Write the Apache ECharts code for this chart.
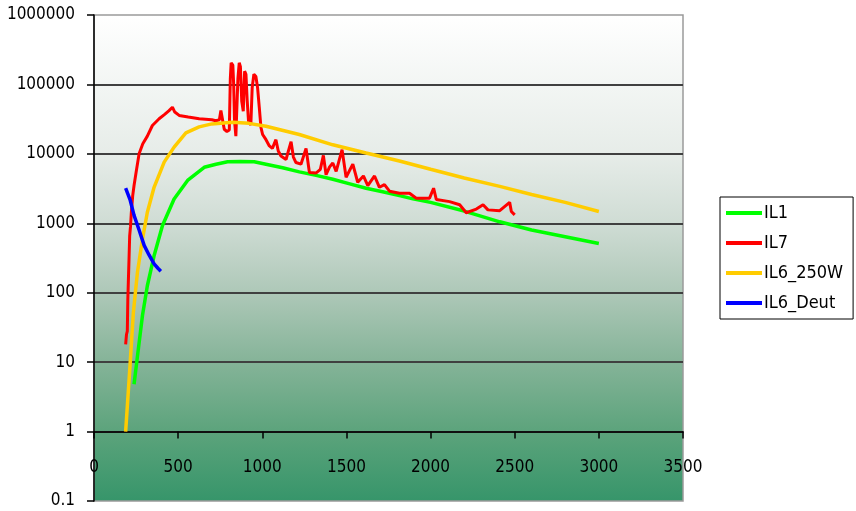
<!DOCTYPE html>
<html>
<head>
<meta charset="utf-8">
<script src="https://cdn.jsdelivr.net/npm/echarts@6/dist/echarts.min.js"></script>
<style>
html,body{margin:0;padding:0;background:#fff;}
#c{width:856px;height:511px;}
</style>
</head>
<body>
<div id="c"></div>
<script>
// ---- data ----
const seriesNames = ['IL1', 'IL7', 'IL6_250W', 'IL6_Deut'];
const xTicks = [0, 500, 1000, 1500, 2000, 2500, 3000, 3500];
const yTicks = [0.1, 1, 10, 100, 1000, 10000, 100000, 1000000];

const il1X = [238, 258, 288, 317, 357, 407, 476, 556, 655, 725, 794, 870, 952, 1022, 1121, 1220, 1320, 1419, 1520, 1617, 1715, 1815, 1895, 2000, 2200, 2411, 2600, 2800, 3000];
const il1Y = [4.8, 12, 47, 126, 340, 930, 2240, 4140, 6400, 7100, 7700, 7750, 7700, 7100, 6300, 5500, 4900, 4300, 3700, 3200, 2850, 2500, 2250, 2000, 1500, 1050, 800, 640, 510];

const il7X = [188, 193, 198, 201, 204, 208, 212, 217, 222, 230, 238, 250, 268, 290, 317, 347, 387, 420, 446, 466, 480, 506, 560, 625, 700, 724, 745, 754, 762, 774, 790, 804, 810, 815, 825, 830, 835, 843, 850, 855, 863, 870, 878, 887, 895, 903, 910, 918, 932, 940, 950, 962, 972, 982, 992, 1002, 1022, 1042, 1060, 1081, 1095, 1111, 1141, 1171, 1185, 1200, 1230, 1260, 1280, 1320, 1345, 1363, 1379, 1400, 1419, 1439, 1474, 1498, 1538, 1567, 1601, 1627, 1667, 1696, 1726, 1756, 1815, 1875, 1915, 1994, 2018, 2034, 2113, 2173, 2212, 2272, 2312, 2341, 2411, 2470, 2480, 2500];
const il7Y = [18, 25, 28, 80, 142, 300, 660, 900, 1450, 2500, 3500, 5400, 10000, 14000, 18000, 25600, 32000, 37000, 42000, 47000, 40000, 35800, 34000, 32000, 31000, 30000, 31000, 42000, 40000, 22600, 21000, 22000, 120000, 205000, 190000, 100000, 30000, 18000, 17500, 120000, 205000, 180000, 57000, 41000, 155000, 140000, 60000, 30000, 26000, 90000, 140000, 130000, 90000, 47000, 24000, 19000, 16000, 13000, 12000, 16000, 11000, 9300, 8300, 15000, 9000, 7500, 7100, 12000, 5400, 5300, 6000, 9500, 5000, 6500, 7400, 5600, 11500, 4600, 7100, 3900, 4800, 3500, 4800, 3300, 3600, 2900, 2700, 2700, 2300, 2300, 3200, 2200, 2050, 1850, 1420, 1600, 1850, 1560, 1520, 2000, 1480, 1320];

const il6wX = [188, 198, 214, 234, 258, 288, 317, 357, 417, 476, 546, 625, 700, 823, 920, 1022, 1220, 1419, 1617, 1815, 2000, 2200, 2411, 2600, 2800, 3000];
const il6wY = [1, 2.3, 8.9, 52, 195, 590, 1440, 3300, 7600, 12500, 20000, 24500, 27000, 28500, 27500, 25000, 19000, 13500, 10300, 7900, 6000, 4500, 3400, 2600, 2000, 1480];

const il6dX = [188, 214, 238, 268, 298, 327, 357, 380, 397];
const il6dY = [3200, 2200, 1300, 800, 480, 350, 260, 225, 204];

const colors = ['#00ff00', '#ff0000', '#ffcc00', '#0000ff'];

function pairs(xs, ys) { return xs.map((x, i) => [x, ys[i]]); }

const FONT = '"DejaVu Sans Condensed", "Liberation Sans Narrow", "Liberation Sans", Arial, sans-serif';
const FS = 17;
const gridTop = 15, gridBottom = 10, chartH = 511;
const plotH = chartH - gridTop - gridBottom;
const decadePx = plotH / (yTicks.length - 1);

const chart = echarts.init(document.getElementById('c'));
chart.setOption({
  animation: false,
  backgroundColor: '#ffffff',
  grid: {
    left: 94, right: 173, top: gridTop, bottom: gridBottom,
    show: true,
    borderColor: '#9a9a9a', borderWidth: 1.5,
    backgroundColor: new echarts.graphic.LinearGradient(0, 0, 0, 1, [
      {offset: 0, color: '#ffffff'},
      {offset: 0.29, color: '#e6ece8'},
      {offset: 0.43, color: '#cfdcd4'},
      {offset: 0.57, color: '#aec8b8'},
      {offset: 0.71, color: '#86b499'},
      {offset: 0.86, color: '#5ba37b'},
      {offset: 1, color: '#36956a'}
    ])
  },
  xAxis: {
    type: 'value', min: xTicks[0], max: xTicks[xTicks.length - 1], interval: 500,
    offset: -decadePx,
    axisLine: {show: true, lineStyle: {color: '#000', width: 1.5}},
    axisTick: {show: true, length: 7, lineStyle: {color: '#000', width: 1.5}},
    axisLabel: {margin: 28, fontSize: FS, fontFamily: FONT, color: '#000',
      formatter: v => String(v)},
    splitLine: {show: false}
  },
  yAxis: {
    type: 'log', logBase: 10, min: yTicks[0], max: yTicks[yTicks.length - 1], splitNumber: 7,
    axisLine: {show: true, lineStyle: {color: '#000', width: 1.5}},
    axisTick: {show: true, length: 7, lineStyle: {color: '#000', width: 1.5}},
    axisLabel: {margin: 19, fontSize: FS, fontFamily: FONT, color: '#000',
      formatter: v => String(+v.toPrecision(6))},
    splitLine: {show: true, showMinLine: false, showMaxLine: false, lineStyle: {color: '#404040', width: 2}}
  },
  legend: {
    orient: 'vertical', left: 720, top: 197,
    data: seriesNames,
    icon: 'rect', itemWidth: 36, itemHeight: 4, itemGap: 12,
    padding: [7, 10, 7, 6],
    borderColor: '#000', borderWidth: 1, backgroundColor: '#fff',
    textStyle: {fontSize: 18, fontFamily: FONT, color: '#000', padding: [0, 0, 0, -3]}
  },
  series: [
    {name: seriesNames[0], type: 'line', data: pairs(il1X, il1Y), showSymbol: false, symbol: 'none',
      lineStyle: {color: colors[0], width: 3.5}, itemStyle: {color: colors[0]}},
    {name: seriesNames[1], type: 'line', data: pairs(il7X, il7Y), showSymbol: false, symbol: 'none',
      lineStyle: {color: colors[1], width: 3}, itemStyle: {color: colors[1]}},
    {name: seriesNames[2], type: 'line', data: pairs(il6wX, il6wY), showSymbol: false, symbol: 'none',
      lineStyle: {color: colors[2], width: 3.5}, itemStyle: {color: colors[2]}},
    {name: seriesNames[3], type: 'line', data: pairs(il6dX, il6dY), showSymbol: false, symbol: 'none',
      lineStyle: {color: colors[3], width: 3.5}, itemStyle: {color: colors[3]}}
  ]
});
</script>
</body>
</html>
